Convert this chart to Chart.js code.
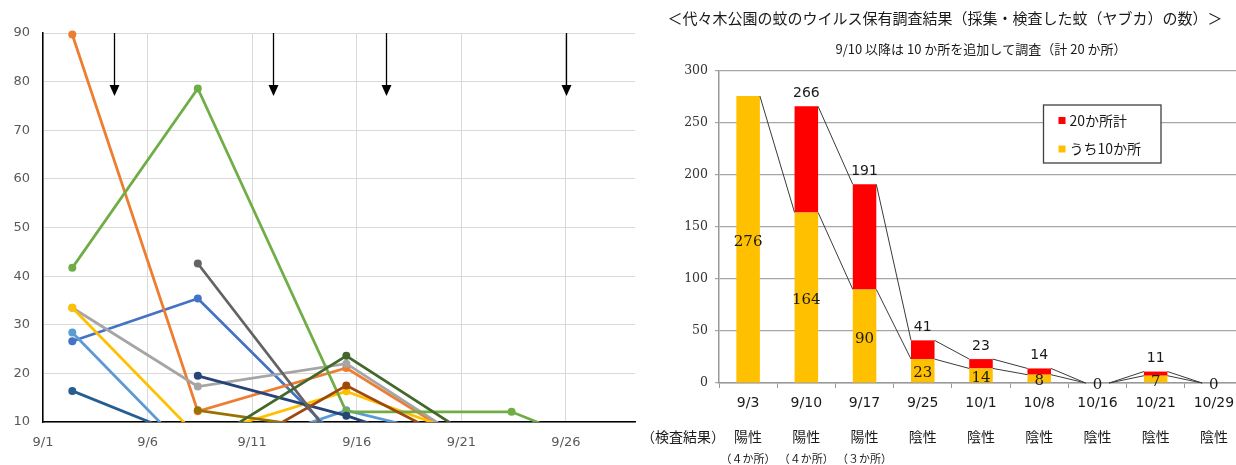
<!DOCTYPE html>
<html><head><meta charset="utf-8">
<script src="https://cdn.jsdelivr.net/npm/chart.js@4"></script>
<style>
html,body{margin:0;padding:0;overflow:hidden;background:#fff;width:1236px;height:465px;}
#left{position:absolute;left:0;top:0;}
#right{position:absolute;left:640px;top:0;}
</style></head><body>
<canvas id="left" width="640" height="465"></canvas>
<canvas id="right" width="610" height="465"></canvas>
<script>
// ---------- left chart data ----------
const surveyDays = [2.4, 8.4, 15.5, 23.4, 30.4];   // positions of survey points (day of September)
const dayTicks = [1, 6, 11, 16, 21, 26];
const sprayDays = [4.4, 12, 17.4, 26];
const site01 = [26.6, 35.4, 5, 0, null];
const site02 = [89.7, 12.2, 21.1, 0, null];
const site03 = [33.5, 17.3, 22, 0, null];
const site04 = [33.5, 7, 16.3, 4, null];
const site05 = [28.4, 2, 12.4, 4, null];
const site06 = [41.7, 78.6, 12.1, 12.1, 0];
const site07 = [null, 19.5, 11.3, 0, null];
const site08 = [null, 0, 17.5, 0, null];
const site09 = [null, 42.6, 3, 0, null];
const site10 = [null, 12.4, 8, 0, null];
const site11 = [16.4, 6, 0, 0, null];
const site12 = [null, 4.6, 23.6, 1.7, null];
const siteColors = ['#4472C4','#ED7D31','#A5A5A5','#FFC000','#5B9BD5','#70AD47',
                    '#264478','#9E480E','#636363','#997300','#255E91','#43682B'];

// ---------- right chart data ----------
const dates = ['9/3','9/10','9/17','9/25','10/1','10/8','10/16','10/21','10/29'];
const tenSites = [276, 164, 90, 23, 14, 8, 0, 7, 0];
const addedSites = [null, 102, 101, 18, 9, 6, 0, 4, 0];
const results = ['陽性','陽性','陽性','陰性','陰性','陰性','陰性','陰性','陰性'];
const positiveSites = ['（４か所）','（４か所）','（３か所）','','','','','',''];
const titleText = '＜代々木公園の蚊のウイルス保有調査結果（採集・検査した蚊（ヤブカ）の数）＞';
const subtitleText = '9/10 以降は 10 か所を追加して調査（計 20 か所）';
const resultHeader = '（検査結果）';

const CJK = "'Noto Sans CJK JP', sans-serif";

// ---------- left chart ----------
const leftSeries = [site01,site02,site03,site04,site05,site06,site07,site08,site09,site10,site11,site12];
const leftDatasets = leftSeries.map((arr, i) => ({
  label: '地点' + (i + 1),
  data: surveyDays.map((d, j) => ({x: d, y: arr[j]})),
  borderColor: siteColors[i],
  backgroundColor: siteColors[i],
  borderWidth: 2.75,
  pointRadius: 4,
  pointHoverRadius: 4,
  pointBorderWidth: 0,
  tension: 0,
  clip: {left: 0, right: 0, top: 6, bottom: 0},
  order: leftSeries.length - i
}));

const arrowPlugin = {
  id: 'arrows',
  afterDatasetsDraw(chart) {
    const {ctx, chartArea: a, scales: {x}} = chart;
    ctx.save();
    ctx.strokeStyle = '#000';
    ctx.fillStyle = '#000';
    ctx.lineWidth = 1.3;
    sprayDays.forEach(d => {
      const px = Math.round(x.getPixelForValue(d)) + 0.5;
      ctx.beginPath();
      ctx.moveTo(px, a.top);
      ctx.lineTo(px, a.top + 54);
      ctx.stroke();
      ctx.beginPath();
      ctx.moveTo(px - 5, a.top + 52);
      ctx.lineTo(px + 5, a.top + 52);
      ctx.lineTo(px, a.top + 63);
      ctx.closePath();
      ctx.fill();
    });
    ctx.restore();
  }
};

const tickFontL = {family: 'DejaVu Sans', size: 13};
new Chart(document.getElementById('left'), {
  type: 'line',
  data: {datasets: leftDatasets},
  options: {
    responsive: false, animation: false, events: [],
    layout: {padding: {top: 33, right: 5, left: 0, bottom: 0}},
    plugins: {legend: {display: false}, tooltip: {enabled: false}},
    scales: {
      x: {
        type: 'linear', min: 1, max: 29.3,
        afterBuildTicks: s => { s.ticks = dayTicks.map(v => ({value: v})); },
        ticks: {callback: v => '9/' + v, color: '#595959', font: tickFontL, padding: 13, maxRotation: 0, autoSkip: false},
        grid: {color: '#D9D9D9', drawTicks: false, lineWidth: 1},
        border: {color: '#000', width: 1.5},
        afterFit: s => { s.height = 43; }
      },
      y: {
        min: 10, max: 90,
        ticks: {stepSize: 10, color: '#595959', font: tickFontL, padding: 13},
        grid: {color: '#D9D9D9', drawTicks: false, lineWidth: 1},
        border: {color: '#000', width: 1.5},
        afterFit: s => { s.width = 43; }
      }
    }
  },
  plugins: [arrowPlugin]
});

// ---------- right chart ----------
const annotPlugin = {
  id: 'annot',
  afterDatasetsDraw(chart) {
    const {ctx, scales: {x, y}} = chart;
    const yMeta = chart.getDatasetMeta(0);
    ctx.save();
    // series lines
    ctx.strokeStyle = '#3a3a3a';
    ctx.lineWidth = 1;
    for (let i = 0; i < dates.length - 1; i++) {
      const b0 = yMeta.data[i], b1 = yMeta.data[i + 1];
      const w0 = b0.width / 2, w1 = b1.width / 2;
      ctx.beginPath();
      ctx.moveTo(b0.x + w0, y.getPixelForValue(tenSites[i]));
      ctx.lineTo(b1.x - w1, y.getPixelForValue(tenSites[i + 1]));
      ctx.stroke();
      if (addedSites[i] !== null && addedSites[i + 1] !== null) {
        ctx.beginPath();
        ctx.moveTo(b0.x + w0, y.getPixelForValue(tenSites[i] + addedSites[i]));
        ctx.lineTo(b1.x - w1, y.getPixelForValue(tenSites[i + 1] + addedSites[i + 1]));
        ctx.stroke();
      }
    }
    // labels
    ctx.textAlign = 'center';
    ctx.textBaseline = 'middle';
    ctx.fillStyle = '#1a1a1a';
    for (let i = 0; i < dates.length; i++) {
      const bx = yMeta.data[i].x;
      const mid = (y.getPixelForValue(0) + y.getPixelForValue(tenSites[i])) / 2;
      ctx.font = "15px 'DejaVu Serif', serif";
      ctx.fillText(String(tenSites[i]), bx, mid + 2.5);
      if (addedSites[i] !== null) {
        const total = tenSites[i] + addedSites[i];
        if (total > 0) {
          ctx.font = "14px 'DejaVu Sans', sans-serif";
          ctx.fillText(String(total), bx, y.getPixelForValue(total) - 13);
        }
      }
    }
    ctx.restore();
  },
  afterDraw(chart) {
    const {ctx, chartArea: a, scales: {x}} = chart;
    ctx.save();
    ctx.fillStyle = '#1a1a1a';
    ctx.textBaseline = 'middle';
    ctx.textAlign = 'center';
    ctx.font = '15px ' + CJK;
    ctx.fillText(titleText, chart.width / 2, 18);
    ctx.font = '13px ' + CJK;
    ctx.fillText(subtitleText, (a.left + a.right) / 2, 49);
    // legend
    const lx = a.left + 324.5, ly = a.top + 34, lw = 117.5, lh = 58;
    ctx.fillStyle = '#fff';
    ctx.fillRect(lx, ly, lw, lh);
    ctx.strokeStyle = '#404040';
    ctx.lineWidth = 1.3;
    ctx.strokeRect(lx, ly, lw, lh);
    const items = [chart.data.datasets[1], chart.data.datasets[0]];
    items.forEach((ds, k) => {
      const cy = ly + 15.5 + k * 28.5;
      ctx.fillStyle = ds.backgroundColor;
      ctx.fillRect(lx + 15, cy - 3.5, 7, 7);
      ctx.fillStyle = '#1a1a1a';
      ctx.textAlign = 'left';
      ctx.font = '14px ' + CJK;
      ctx.fillText(ds.label, lx + 26, cy);
    });
    // result rows
    ctx.textAlign = 'center';
    ctx.fillStyle = '#1a1a1a';
    for (let i = 0; i < dates.length; i++) {
      const cx = x.getPixelForValue(i);
      ctx.font = '14px ' + CJK;
      ctx.fillText(results[i], cx, 437);
      if (positiveSites[i]) {
        ctx.font = '11px ' + CJK;
        ctx.fillText(positiveSites[i], cx, 459);
      }
    }
    ctx.font = '14px ' + CJK;
    ctx.textAlign = 'right';
    ctx.fillText(resultHeader, a.left + 6, 437);
    ctx.restore();
  }
};

new Chart(document.getElementById('right'), {
  type: 'bar',
  data: {
    labels: dates,
    datasets: [
      {label: 'うち10か所', data: tenSites, backgroundColor: '#FFC000', barPercentage: 0.404, categoryPercentage: 1},
      {label: '20か所計', data: addedSites, backgroundColor: '#FF0000', barPercentage: 0.404, categoryPercentage: 1}
    ]
  },
  options: {
    responsive: false, animation: false, events: [],
    layout: {padding: {top: 71, right: 7, left: 0, bottom: 0}},
    plugins: {legend: {display: false}, tooltip: {enabled: false}},
    scales: {
      x: {
        stacked: true,
        grid: {offset: true, drawOnChartArea: false, drawTicks: true, tickLength: 5, color: '#999'},
        border: {color: '#999', width: 1.5},
        ticks: {font: {family: 'DejaVu Sans', size: 14}, color: '#1a1a1a', padding: 7, maxRotation: 0, autoSkip: false},
        afterFit: s => { s.height = 82; }
      },
      y: {
        stacked: true, min: 0, max: 300,
        ticks: {stepSize: 50, font: {family: 'DejaVu Serif', size: 12.5}, color: '#333', padding: 7},
        grid: {color: '#A6A6A6', tickLength: 4, lineWidth: 1.2},
        border: {color: '#999', width: 1.5},
        afterFit: s => { s.width = 79; }
      }
    }
  },
  plugins: [annotPlugin]
});
</script>
</body></html>
